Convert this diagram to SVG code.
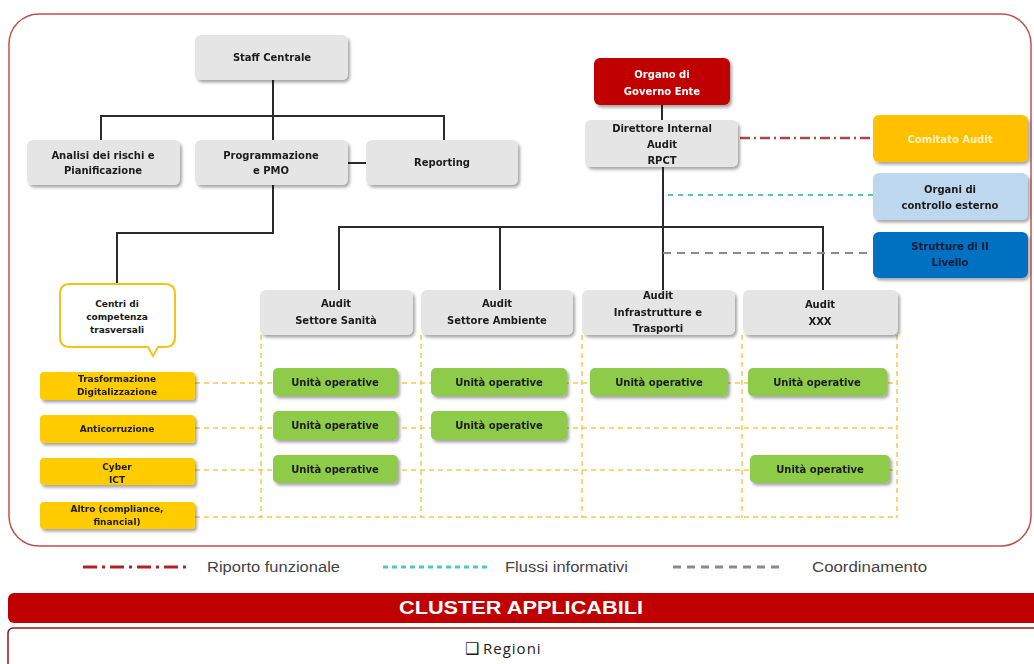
<svg xmlns="http://www.w3.org/2000/svg" width="1034" height="664" viewBox="0 0 1034 664">
<defs>
<filter id="sh" x="-10%" y="-20%" width="130%" height="160%">
<feDropShadow dx="2" dy="2.5" stdDeviation="1.6" flood-color="#000" flood-opacity="0.35"/>
</filter>
<style>
.t{font-family:"DejaVu Sans",sans-serif;font-weight:bold;font-size:10px;fill:#1a1a1a;text-anchor:middle}
.s{font-size:9px}
.gr{fill:#e5e5e5}
.gn{fill:#8dcb4a}
.yl{fill:#ffcc00}
.ln{fill:none;stroke:#2b2b2b;stroke-width:2}
.yd{fill:none;stroke:#f2c94c;stroke-width:1.5;stroke-dasharray:5 4}
.lg{font-family:"Liberation Sans",sans-serif;font-size:14px;fill:#444}
</style>
</defs>
<rect width="1034" height="664" fill="#fff"/>
<rect x="9" y="14" width="1022" height="532" rx="30" fill="#fff" stroke="#c0504d" stroke-width="1.5"/>

<g id="grid-lines">
<path class="yd" d="M261,335V518M421,335V518M582,335V518M742,335V518M897,335V518"/>
<path class="yd" d="M195,383H897M195,428H897M195,470H897M195,517H897"/>
</g>

<g id="connectors">
<path class="ln" d="M273,80V140M101,140V116H444V140M348,163H366M273,185V233H117V284"/>
<path class="ln" d="M662,105V120M663,167V290M339,290V227H823V290M500,227V290"/>
<path d="M740,138H873" fill="none" stroke="#a34a4a" stroke-width="2.5" stroke-dasharray="10 4 2 4"/>
<path d="M668,195H873" fill="none" stroke="#4fc9b5" stroke-width="2" stroke-dasharray="5 5"/>
<path d="M663,253H873" fill="none" stroke="#8a8a8a" stroke-width="2" stroke-dasharray="8 6"/>
</g>

<g id="staff" filter="url(#sh)"><rect class="gr" x="195" y="35" width="153" height="45" rx="6"/><text class="t" x="272" y="61">Staff Centrale</text></g>
<g id="analisi" filter="url(#sh)"><rect class="gr" x="27" y="140" width="153" height="45" rx="6"/><text class="t" x="103" y="159">Analisi dei rischi e</text><text class="t" x="103" y="174">Pianificazione</text></g>
<g id="programmazione" filter="url(#sh)"><rect class="gr" x="195" y="140" width="153" height="45" rx="6"/><text class="t" x="271" y="159">Programmazione</text><text class="t" x="271" y="174">e PMO</text></g>
<g id="reporting" filter="url(#sh)"><rect class="gr" x="366" y="140" width="152" height="45" rx="6"/><text class="t" x="442" y="166">Reporting</text></g>

<g id="organo" filter="url(#sh)"><rect x="594" y="58" width="136" height="47" rx="6" fill="#c00000"/><text class="t" x="662" y="78" style="fill:#fff">Organo di</text><text class="t" x="662" y="95" style="fill:#fff">Governo Ente</text></g>
<g id="direttore" filter="url(#sh)"><rect class="gr" x="585" y="120" width="153" height="47" rx="6"/><text class="t" x="662" y="132">Direttore Internal</text><text class="t" x="662" y="148">Audit</text><text class="t" x="662" y="164">RPCT</text></g>
<g id="comitato" filter="url(#sh)"><rect x="873" y="115" width="155" height="47" rx="6" fill="#ffc000"/><text class="t" x="950" y="143" style="fill:#fff4c4">Comitato Audit</text></g>
<g id="organi" filter="url(#sh)"><rect x="873" y="173" width="155" height="47" rx="6" fill="#bdd7ee"/><text class="t" x="950" y="193">Organi di</text><text class="t" x="950" y="209">controllo esterno</text></g>
<g id="strutture" filter="url(#sh)"><rect x="873" y="232" width="155" height="46" rx="6" fill="#0070c0"/><text class="t" x="950" y="250" style="fill:#0d1a33">Strutture di II</text><text class="t" x="950" y="266" style="fill:#0d1a33">Livello</text></g>

<g id="centri"><path d="M70,284H165Q175,284 175,294V337Q175,347 165,347H158L153,356L148,347H70Q60,347 60,337V294Q60,284 70,284Z" fill="#fff" stroke="#f0c419" stroke-width="2"/><text class="t s" x="117" y="307">Centri di</text><text class="t s" x="117" y="320">competenza</text><text class="t s" x="117" y="333">trasversali</text></g>

<g id="audit-sanita" filter="url(#sh)"><rect class="gr" x="260" y="290" width="153" height="45" rx="6"/><text class="t" x="336" y="307">Audit</text><text class="t" x="336" y="324">Settore Sanità</text></g>
<g id="audit-ambiente" filter="url(#sh)"><rect class="gr" x="421" y="290" width="152" height="45" rx="6"/><text class="t" x="497" y="307">Audit</text><text class="t" x="497" y="324">Settore Ambiente</text></g>
<g id="audit-infra" filter="url(#sh)"><rect class="gr" x="582" y="290" width="153" height="45" rx="6"/><text class="t" x="658" y="299">Audit</text><text class="t" x="658" y="316">Infrastrutture e</text><text class="t" x="658" y="332">Trasporti</text></g>
<g id="audit-xxx" filter="url(#sh)"><rect class="gr" x="743" y="290" width="155" height="45" rx="6"/><text class="t" x="820" y="308">Audit</text><text class="t" x="820" y="325">XXX</text></g>

<g id="uo-1-1" filter="url(#sh)"><rect class="gn" x="273" y="368" width="125" height="28" rx="5"/><text class="t" x="335" y="386">Unità operative</text></g>
<g id="uo-1-2" filter="url(#sh)"><rect class="gn" x="431" y="368" width="136" height="28" rx="5"/><text class="t" x="499" y="386">Unità operative</text></g>
<g id="uo-1-3" filter="url(#sh)"><rect class="gn" x="590" y="368" width="138" height="28" rx="5"/><text class="t" x="659" y="386">Unità operative</text></g>
<g id="uo-1-4" filter="url(#sh)"><rect class="gn" x="748" y="368" width="139" height="28" rx="5"/><text class="t" x="817" y="386">Unità operative</text></g>
<g id="uo-2-1" filter="url(#sh)"><rect class="gn" x="273" y="411" width="125" height="29" rx="5"/><text class="t" x="335" y="429">Unità operative</text></g>
<g id="uo-2-2" filter="url(#sh)"><rect class="gn" x="431" y="411" width="136" height="29" rx="5"/><text class="t" x="499" y="429">Unità operative</text></g>
<g id="uo-3-1" filter="url(#sh)"><rect class="gn" x="273" y="455" width="125" height="28" rx="5"/><text class="t" x="335" y="473">Unità operative</text></g>
<g id="uo-3-4" filter="url(#sh)"><rect class="gn" x="750" y="455" width="140" height="28" rx="5"/><text class="t" x="820" y="473">Unità operative</text></g>

<g id="trasformazione" filter="url(#sh)"><rect class="yl" x="40" y="372" width="155" height="28" rx="4"/><text class="t s" x="117" y="382">Trasformazione</text><text class="t s" x="117" y="395">Digitalizzazione</text></g>
<g id="anticorruzione" filter="url(#sh)"><rect class="yl" x="40" y="415" width="155" height="28" rx="4"/><text class="t s" x="117" y="432">Anticorruzione</text></g>
<g id="cyber" filter="url(#sh)"><rect class="yl" x="40" y="458" width="155" height="27" rx="4"/><text class="t s" x="117" y="470">Cyber</text><text class="t s" x="117" y="483">ICT</text></g>
<g id="altro" filter="url(#sh)"><rect class="yl" x="40" y="502" width="155" height="27" rx="4"/><text class="t s" x="117" y="512">Altro (compliance,</text><text class="t s" x="117" y="525">financial)</text></g>

<g id="legend">
<path d="M83,567H190" stroke="#b22222" stroke-width="3" stroke-dasharray="14 5 3 5"/>
<text class="lg" x="207" y="572" textLength="133" lengthAdjust="spacingAndGlyphs">Riporto funzionale</text>
<path d="M383,567H487" stroke="#4fc9c0" stroke-width="3" stroke-dasharray="5 4"/>
<text class="lg" x="505" y="572" textLength="123" lengthAdjust="spacingAndGlyphs">Flussi informativi</text>
<path d="M673,567H783" stroke="#8a8a8a" stroke-width="3" stroke-dasharray="8 6"/>
<text class="lg" x="812" y="572" textLength="115" lengthAdjust="spacingAndGlyphs">Coordinamento</text>
</g>

<g id="cluster">
<rect x="8" y="593" width="1040" height="30" rx="6" fill="#c00000"/>
<text x="521" y="614" text-anchor="middle" font-family="Liberation Sans, sans-serif" font-weight="bold" font-size="18" fill="#fff" textLength="244" lengthAdjust="spacingAndGlyphs">CLUSTER APPLICABILI</text>
</g>
<g id="regioni">
<rect x="8" y="628" width="1040" height="50" rx="5" fill="#fff" stroke="#8b1a1a" stroke-width="1.5"/>
<text x="465" y="654" font-family="DejaVu Sans, sans-serif" font-size="16" fill="#222">❑</text>
<text x="483" y="654" font-family="Open Sans, sans-serif" font-size="15" letter-spacing="1" fill="#222">Regioni</text>
</g>
</svg>
